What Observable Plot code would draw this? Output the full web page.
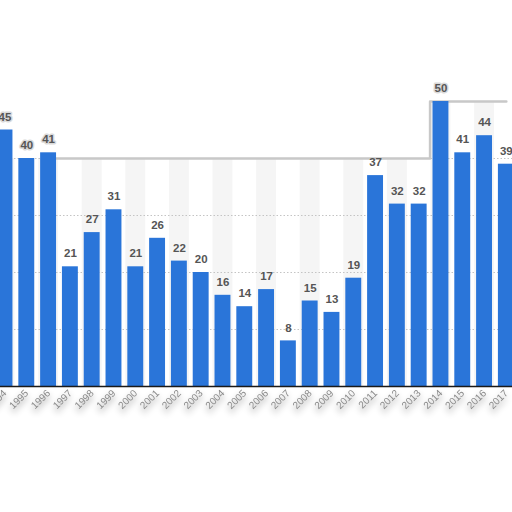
<!DOCTYPE html>
<html><head>
<meta charset="utf-8">
<script src="https://cdn.jsdelivr.net/npm/d3@7"></script>
<script src="https://cdn.jsdelivr.net/npm/@observablehq/plot@0.6"></script>
<style>body{margin:0;background:#fff;overflow:hidden}</style>
</head><body><div id="chart"></div>
<script>
const years = ["1994","1995","1996","1997","1998","1999","2000","2001","2002","2003","2004","2005","2006","2007","2008","2009","2010","2011","2012","2013","2014","2015","2016","2017"];
const values = [45,40,41,21,27,31,21,26,22,20,16,14,17,8,15,13,19,37,32,32,50,41,44,39];
const panelTop = [40,40,40,40,40,40,40,40,40,40,40,40,40,40,40,40,40,40,40,40,50,50,50,50];
const gridValues = [10,20,30,40];

const data = years.map((y, i) => ({year: y, value: values[i], panel: panelTop[i], idx: i}));

const svg = Plot.plot({
  width: 512,
  height: 512,
  marginTop: 101,
  marginBottom: 126,
  marginLeft: 0,
  marginRight: 0,
  style: {background: "#fff", fontFamily: "'Liberation Sans', Arial, sans-serif", overflow: "visible"},
  x: {type: "band", domain: years, range: [-9.35, 519.7], padding: 0.27, round: false, label: null},
  y: {domain: [0, 50], axis: null},
  marks: [
    Plot.barY(data.filter(d => d.idx % 2 === 0), {x: "year", y: "panel", fill: "#f5f5f5", insetLeft: -2, insetRight: -2}),
    Plot.ruleY(gridValues, {stroke: "#c4c4c4", strokeDasharray: "1.5,2", strokeWidth: 1}),
    Plot.line(data.filter(d => +d.year >= 1996), {x: "year", y: "panel", curve: "step", stroke: "#c8c8c8", strokeWidth: 2.5}),
    Plot.barY(data, {x: "year", y: "value", fill: "#2a75d9"}),
    Plot.text(data, {x: "year", y: "value", text: d => String(d.value), dy: -13, fill: "#555", fontWeight: "bold", fontSize: 11.5,
      stroke: d => d.value >= d.panel ? "#dadada" : "none", strokeWidth: 3}),
    Plot.ruleY([0], {stroke: "#1a1a1a", strokeWidth: 1.5}),
    Plot.axisX({tickRotate: -45, tickSize: 0, tickPadding: 5, fill: "#8a8a8a", fontSize: 10, label: null})
  ]
});
document.getElementById("chart").appendChild(svg);
d3.select(svg).selectAll('g[aria-label="x-axis tick label"]')
  .style("filter", "drop-shadow(0px 4px 3px rgba(0,0,0,0.45)) blur(0.7px)");
</script>
</body></html>
